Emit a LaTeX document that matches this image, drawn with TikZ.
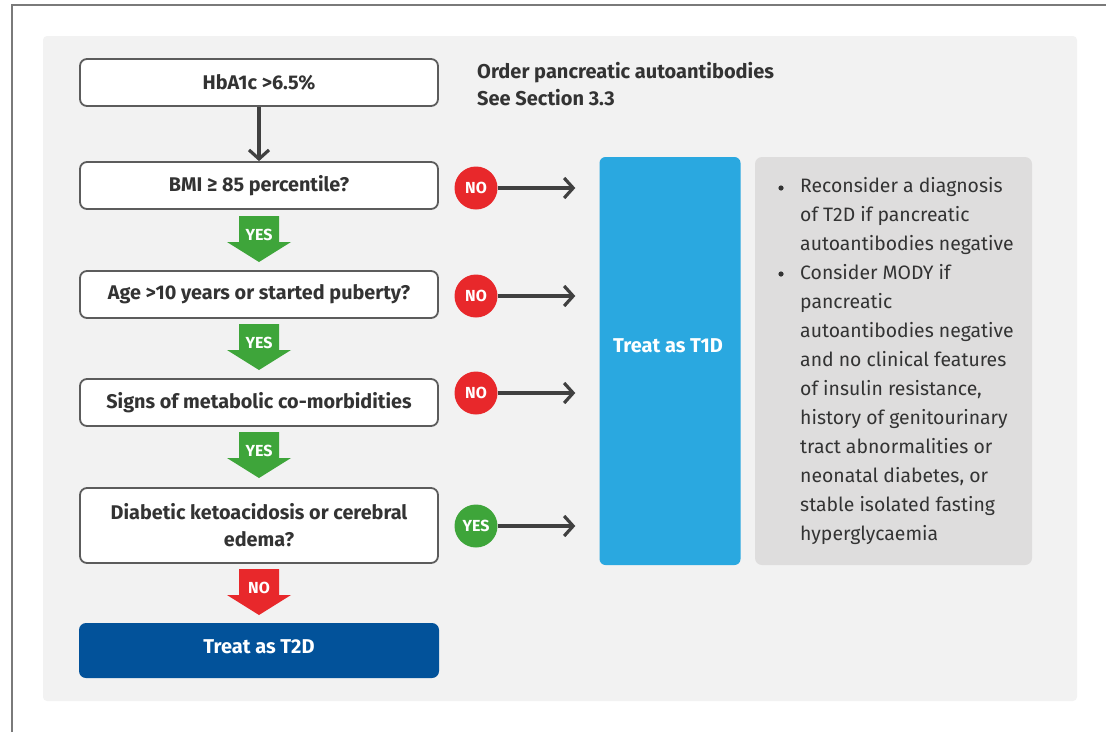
\documentclass[tikz,border=0pt]{standalone}
\usepackage{fontspec}
\setmainfont{Fira Sans}
\usetikzlibrary{arrows.meta}
\definecolor{bggray}{HTML}{F2F2F2}
\definecolor{frame}{HTML}{7A7A7A}
\definecolor{boxline}{HTML}{5C5C5C}
\definecolor{txt}{HTML}{333333}
\definecolor{arrowgray}{HTML}{404040}
\definecolor{nored}{HTML}{E8282B}
\definecolor{yesgreen}{HTML}{3EA53A}
\definecolor{tone}{HTML}{2AA8E0}
\definecolor{ttwo}{HTML}{02529A}
\definecolor{notegray}{HTML}{DEDDDD}
\begin{document}
\begin{tikzpicture}[x=1pt,y=-1pt,
  qbox/.style={draw=boxline, line width=1.8pt, fill=white, rounded corners=7pt,
    minimum width=358pt, inner sep=0pt, text=txt, align=center,
    font=\fontsize{19.8}{27}\selectfont\bfseries},
  circ/.style={circle, minimum size=43pt, inner sep=0pt, text=white,
    font=\fontsize{16}{16}\selectfont\bfseries},
  conn/.style={draw=arrowgray, line width=3.2pt, -{Straight Barb[length=9pt,width=20pt,line width=3.2pt]}},
  biglbl/.style={text=white, inner sep=0pt, font=\fontsize{16}{16}\selectfont\bfseries},
  bigtxt/.style={text=white, inner sep=0pt, font=\fontsize{20}{20}\selectfont\bfseries},
]
\useasboundingbox (0,0) rectangle (1106,732);
% outer frame
\draw[frame, line width=1.5pt] (12,732) -- (12,5) -- (1106,5);
% background panel
\fill[bggray, rounded corners=4pt] (43,36) rectangle (1077,701);

% question boxes
\node[qbox, minimum height=47pt] (hba) at (259,82.5) {HbA1c >6.5\%};
\node[qbox, minimum height=47pt] (bmi) at (259,185.5) {BMI ≥ 85 percentile?};
\node[qbox, minimum height=47pt] (age) at (259,294.5) {Age >10 years or started puberty?};
\node[qbox, minimum height=47pt] (sig) at (259,402.5) {Signs of metabolic co-morbidities};
\node[qbox, minimum height=75pt] (dka) at (259,525.5) {Diabetic ketoacidosis or cerebral\\edema?};
\node[fill=ttwo, rounded corners=7pt, minimum width=360pt, minimum height=55pt, inner sep=0pt] (t2d) at (259,650.5) {};
\node[bigtxt] (t2dlbl) at (259,646.5) {Treat as T2D};

% header text
\node[anchor=west, align=left, text=txt, inner sep=0pt,
  font=\fontsize{20}{27}\selectfont\bfseries] (hdr) at (477,84.5)
  {Order pancreatic autoantibodies\\See Section 3.3};

% T1D box
\node[fill=tone, rounded corners=6pt, minimum width=141pt, minimum height=408pt, inner sep=0pt] (t1d) at (670,361) {};
\node[bigtxt] (t1dlbl) at (668,346) {Treat as T1D};

% notes box
\node[fill=notegray, rounded corners=7pt, minimum width=277pt, minimum height=408pt, inner sep=0pt] (notes) at (893.5,361) {};
\node[anchor=north west, align=left, text=txt, inner sep=0pt,
  font=\fontsize{19.4}{29}\selectfont] (ntxt) at (800,177)
  {Reconsider a diagnosis\\of T2D if pancreatic\\autoantibodies negative\\Consider MODY if\\pancreatic\\autoantibodies negative\\and no clinical features\\of insulin resistance,\\history of genitourinary\\tract abnormalities or\\neonatal diabetes, or\\stable isolated fasting\\hyperglycaemia};
\fill[txt] (781,188) circle (2.6pt);
\fill[txt] (781,274) circle (2.6pt);

% vertical arrow
\draw[conn] (hba) -- (bmi);

% side circles and arrows
\node[circ, fill=nored] (no1) at (476,188) {NO};
\node[circ, fill=nored] (no2) at (476,296) {NO};
\node[circ, fill=nored] (no3) at (476,393) {NO};
\node[circ, fill=yesgreen] (yes4) at (476,526) {YES};
\draw[conn, shorten >=24pt] (no1) -- (no1 -| t1d.west);
\draw[conn, shorten >=24pt] (no2) -- (no2 -| t1d.west);
\draw[conn, shorten >=24pt] (no3) -- (no3 -| t1d.west);
\draw[conn, shorten >=24pt] (yes4) -- (yes4 -| t1d.west);

% big down arrows
\newcommand{\blockarrow}[4]{%
  \fill[#2] (259-20,#1) -- (259+20,#1) -- (259+20,#1+26) -- (259+32,#1+26)
    -- (259,#1+46) -- (259-32,#1+26) -- (259-20,#1+26) -- cycle;
  \node[biglbl] (#4) at (259,#1+19) {#3};}
\blockarrow{216}{yesgreen}{YES}{ya1}
\blockarrow{324}{yesgreen}{YES}{ya2}
\blockarrow{432}{yesgreen}{YES}{ya3}
\blockarrow{569}{nored}{NO}{na4}
\end{tikzpicture}
\end{document}
